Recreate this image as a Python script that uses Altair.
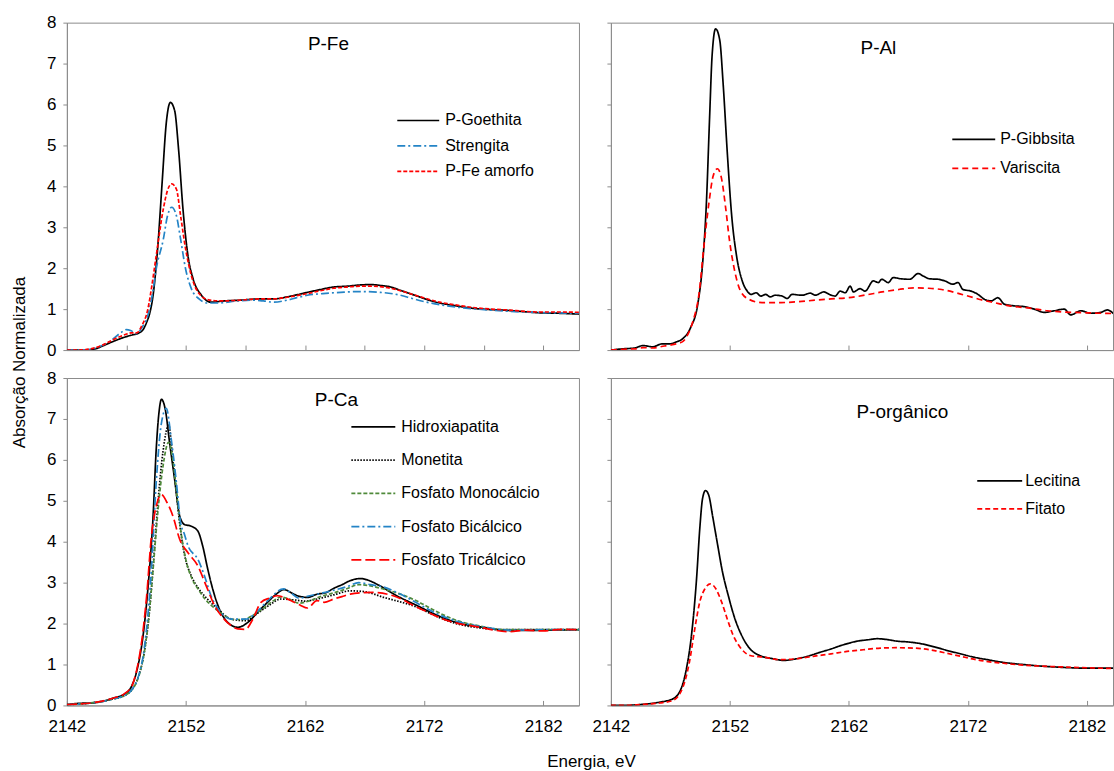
import altair as alt
import pandas as pd

FONT = "Liberation Sans"

# ---------------- P-Fe ----------------
goethita_e = [2142, 2143, 2144, 2144.5, 2145, 2145.8, 2146.9, 2147.5, 2148.0, 2148.4, 2148.7, 2149.0, 2149.24,
              2149.45, 2149.66, 2150.0, 2150.35, 2150.69, 2151.05, 2151.38, 2151.75, 2152.17, 2152.6, 2153.3,
              2154.1, 2155.2, 2156.6, 2157.5, 2158.3, 2159.4, 2160.5, 2161.3, 2162.2, 2163.3, 2164.4, 2165.5,
              2166.6, 2167.5, 2168.3, 2169.2, 2170.0, 2170.8, 2171.7, 2172.5, 2173.3, 2174.5, 2176.1, 2177.5,
              2178.9, 2180.3, 2181.7, 2183.2, 2185.0]
goethita_v = [0.0, 0.0, 0.01, 0.04, 0.1, 0.2, 0.32, 0.37, 0.41, 0.5, 0.68, 0.95, 1.34,
              1.9, 2.63, 4.1, 5.56, 6.05, 5.85, 4.9, 3.44, 2.3, 1.74, 1.34,
              1.17, 1.2, 1.22, 1.24, 1.25, 1.25, 1.3, 1.35, 1.41, 1.48, 1.54, 1.56,
              1.59, 1.6, 1.58, 1.54, 1.46, 1.38, 1.29, 1.21, 1.15, 1.09, 1.02, 0.99,
              0.97, 0.94, 0.91, 0.9, 0.88]

strengita_e = [2142, 2143, 2144, 2145, 2145.8, 2146.5, 2147.0, 2147.4, 2147.85, 2148.3, 2148.8, 2149.2, 2149.5,
               2150.1, 2150.45, 2150.8, 2151.2, 2151.55, 2151.97, 2152.45, 2153.1, 2153.8, 2154.7, 2156.3,
               2157.5, 2158.5, 2159.4, 2160.5, 2161.3, 2162.2, 2163.5, 2165.0, 2166.6, 2168.3, 2170.0, 2171.0,
               2172.2, 2173.5, 2174.7, 2176.5, 2178.9, 2181.5, 2185.0]
strengita_v = [0.0, 0.0, 0.02, 0.12, 0.25, 0.42, 0.5, 0.47, 0.4, 0.55, 0.85, 1.4, 1.98,
               2.71, 3.28, 3.49, 3.28, 2.71, 1.98, 1.5, 1.25, 1.15, 1.15, 1.2,
               1.22, 1.2, 1.17, 1.22, 1.28, 1.34, 1.38, 1.41, 1.43, 1.41, 1.34, 1.26,
               1.17, 1.1, 1.05, 1.0, 0.95, 0.92, 0.9]

amorfo_e = [2142, 2143, 2144, 2145, 2145.8, 2146.9, 2147.4, 2147.85, 2148.3, 2148.8, 2149.15, 2149.5, 2150.1,
            2150.45, 2150.8, 2151.2, 2151.55, 2151.97, 2152.45, 2153.1, 2154.0, 2155.2, 2156.6, 2158.3,
            2159.4, 2160.5, 2162.2, 2163.3, 2164.4, 2165.5, 2166.6, 2167.5, 2168.3, 2169.2, 2170.0, 2171.7,
            2173.3, 2174.5, 2176.1, 2178.9, 2181.7, 2183.5, 2185.0]
amorfo_v = [0.0, 0.0, 0.03, 0.12, 0.24, 0.38, 0.42, 0.42, 0.6, 1.0, 1.6, 2.3, 3.45,
            3.9, 4.06, 3.93, 3.28, 2.47, 1.82, 1.38, 1.22, 1.2, 1.22, 1.25,
            1.25, 1.29, 1.38, 1.45, 1.51, 1.54, 1.56, 1.56, 1.55, 1.51, 1.45, 1.3,
            1.17, 1.11, 1.04, 0.98, 0.93, 0.93, 0.92]

# ---------------- P-Al ----------------
gibbsita_e = [2142, 2143, 2144, 2144.7, 2145.5, 2146.3, 2146.9, 2147.5, 2148.0, 2148.7, 2149.3, 2149.7,
              2150.03, 2150.3, 2150.5, 2150.8, 2151.15, 2151.43, 2151.8, 2152.15, 2152.55, 2153.05, 2153.46,
              2153.8, 2154.2, 2154.6, 2155.0, 2155.4, 2155.8, 2156.39, 2156.81, 2157.23, 2158.06, 2158.76,
              2159.18, 2159.88, 2160.43, 2160.85, 2161.27, 2161.69, 2162.11, 2162.39, 2162.94, 2163.36,
              2164.06, 2164.48, 2164.76, 2165.31, 2165.73, 2166.43, 2167.13, 2167.82, 2168.24, 2168.8,
              2169.5, 2170.06, 2170.75, 2171.17, 2171.59, 2172.29, 2172.85, 2173.4, 2173.96, 2174.52,
              2175.08, 2175.91, 2176.75, 2177.59, 2178.42, 2179.26, 2180.1, 2180.65, 2181.49, 2182.33,
              2183.16, 2183.72, 2184.28]
gibbsita_v = [0.0, 0.03, 0.05, 0.11, 0.08, 0.15, 0.15, 0.2, 0.27, 0.55, 1.12, 2.09,
              3.62, 5.72, 7.17, 7.85, 7.57, 6.52, 4.74, 3.29, 2.32, 1.68, 1.44,
              1.36, 1.4, 1.32, 1.36, 1.3, 1.34, 1.32, 1.26, 1.36, 1.34, 1.39,
              1.34, 1.42, 1.35, 1.32, 1.44, 1.4, 1.56, 1.42, 1.5, 1.44,
              1.69, 1.65, 1.73, 1.65, 1.77, 1.74, 1.73, 1.87, 1.81, 1.74,
              1.73, 1.69, 1.61, 1.65, 1.48, 1.44, 1.36, 1.24, 1.2, 1.28,
              1.12, 1.08, 1.06, 1.0, 0.92, 0.96, 1.0, 0.86, 0.96, 0.9,
              0.92, 0.98, 0.88]

variscita_e = [2142, 2143, 2144, 2144.7, 2145.5, 2146.5, 2147.3, 2148.0, 2148.5, 2148.9, 2149.4, 2149.8,
               2150.25, 2150.6, 2150.95, 2151.3, 2151.65, 2151.98, 2152.35, 2152.9, 2153.6, 2154.7, 2156.3,
               2157.7, 2159.2, 2160.5, 2162.0, 2163.5, 2164.8, 2166.2, 2167.5, 2168.7, 2169.8, 2171.0,
               2172.0, 2173.1, 2174.2, 2175.5, 2177.3, 2178.7, 2180.1, 2182.0, 2184.4]
variscita_v = [0.0, 0.02, 0.03, 0.06, 0.05, 0.1, 0.14, 0.2, 0.4, 0.71, 1.36, 2.49,
               3.62, 4.26, 4.43, 4.19, 3.46, 2.65, 2.01, 1.44, 1.24, 1.16, 1.16,
               1.18, 1.22, 1.25, 1.28, 1.35, 1.42, 1.48, 1.52, 1.51, 1.48, 1.4,
               1.32, 1.23, 1.16, 1.08, 1.02, 0.96, 0.93, 0.91, 0.89]

# ---------------- P-Ca ----------------
hidroxi_e = [2142, 2143, 2144.1, 2145, 2145.8, 2146.9, 2147.4, 2147.85, 2148.4, 2148.8, 2149.24, 2149.5,
             2149.75, 2149.94, 2150.27, 2150.63, 2151.05, 2151.47, 2151.88, 2152.44, 2153.0, 2153.4, 2153.83,
             2154.25, 2154.8, 2155.5, 2156.35, 2157.2, 2158.0, 2158.85, 2159.5, 2160.24, 2160.8, 2161.36,
             2162.2, 2163.03, 2163.7, 2164.4, 2165.1, 2165.8, 2166.65, 2167.3, 2168.04, 2169.7, 2171.4,
             2173.05, 2174.7, 2176.95, 2179.2, 2182.5, 2185]
hidroxi_v = [0.02, 0.05, 0.06, 0.1, 0.17, 0.29, 0.45, 0.82, 1.71, 2.84, 4.63, 6.25,
             7.2, 7.48, 7.22, 6.41, 5.52, 4.63, 4.42, 4.38, 4.26, 3.9, 3.33,
             2.84, 2.36, 2.03, 1.91, 2.03, 2.27, 2.52, 2.7, 2.83, 2.76, 2.68,
             2.64, 2.72, 2.75, 2.86, 2.95, 3.05, 3.1, 3.06, 2.96, 2.68, 2.44,
             2.21, 2.03, 1.91, 1.83, 1.84, 1.85]

monetita_e = [2142, 2144, 2145.8, 2146.9, 2147.5, 2148.0, 2148.5, 2148.9, 2149.3, 2149.66, 2150.07, 2150.55,
              2150.9, 2151.2, 2151.5, 2151.9, 2152.44, 2153.0, 2153.8, 2154.67, 2155.8, 2157.0, 2158.0,
              2159.0, 2160.0, 2161.0, 2162.0, 2163.0, 2164.4, 2165.8, 2167.0, 2168.6, 2170.0, 2171.4,
              2173.0, 2174.7, 2176.5, 2178.5, 2181, 2185]
monetita_v = [0.02, 0.06, 0.15, 0.25, 0.4, 0.7, 1.3, 2.2, 3.6, 5.0, 6.2, 6.85,
              6.0, 5.19, 4.38, 3.65, 3.17, 2.88, 2.6, 2.36, 2.11, 2.07, 2.25,
              2.45, 2.6, 2.58, 2.55, 2.6, 2.7, 2.8, 2.78, 2.64, 2.53, 2.4,
              2.18, 2.0, 1.9, 1.85, 1.85, 1.85]

mono_e = [2142, 2144, 2145.8, 2146.9, 2147.5, 2148.0, 2148.5, 2148.9, 2149.24, 2149.66, 2150.07, 2150.55,
          2150.9, 2151.25, 2151.6, 2152.0, 2152.5, 2153.0, 2153.6, 2154.3, 2155.0, 2156.0, 2156.8, 2157.6,
          2158.4, 2159.3, 2160.0, 2160.8, 2161.5, 2162.3, 2163.2, 2164.4, 2165.5, 2166.5, 2167.5, 2168.5,
          2170.0, 2171.4, 2173.0, 2174.7, 2176.5, 2179, 2182, 2185]
mono_v = [0.02, 0.06, 0.15, 0.25, 0.4, 0.68, 1.3, 2.2, 3.33, 4.79, 5.84, 6.43,
          6.0, 5.1, 4.2, 3.55, 3.1, 2.85, 2.6, 2.4, 2.25, 2.1, 2.1, 2.2,
          2.35, 2.55, 2.65, 2.58, 2.5, 2.55, 2.65, 2.75, 2.85, 2.95, 2.92, 2.85,
          2.72, 2.55, 2.3, 2.08, 1.95, 1.85, 1.85, 1.85]

bica_e = [2142, 2144, 2145.8, 2146.9, 2147.5, 2148.0, 2148.5, 2149.1, 2149.5, 2149.94, 2150.35, 2150.77,
          2151.2, 2151.55, 2151.85, 2152.17, 2153.0, 2153.55, 2154.1, 2154.95, 2155.8, 2157.0, 2158.0,
          2159.0, 2160.2, 2160.8, 2161.5, 2162.4, 2163.5, 2164.5, 2165.5, 2166.5, 2167.5, 2168.5,
          2170.0, 2171.4, 2173.0, 2174.7, 2176.9, 2179.2, 2182, 2185]
bica_v = [0.02, 0.06, 0.15, 0.25, 0.4, 0.7, 1.4, 3.33, 5.44, 6.9, 7.26, 6.49,
          5.44, 4.46, 4.2, 3.9, 3.57, 3.17, 2.68, 2.27, 2.11, 2.11, 2.3,
          2.6, 2.85, 2.75, 2.62, 2.68, 2.75, 2.82, 2.9, 3.0, 2.95, 2.9,
          2.72, 2.5, 2.25, 2.06, 1.92, 1.84, 1.85, 1.85]

trica_e = [2142, 2144, 2145.8, 2146.9, 2147.5, 2147.85, 2148.3, 2148.7, 2149.1, 2149.5, 2149.94, 2150.35,
           2150.9, 2151.47, 2152.17, 2153.0, 2153.7, 2154.4, 2155.2, 2155.8, 2156.35, 2157.0, 2157.6,
           2158.3, 2159.0, 2159.7, 2160.2, 2161.1, 2161.6, 2162.2, 2163.0, 2163.6, 2164.4, 2165.1,
           2165.8, 2166.65, 2167.7, 2169.4, 2171.4, 2174.2, 2176.5, 2179.2, 2180.5, 2182, 2183.5, 2185]
trica_v = [0.02, 0.06, 0.17, 0.3, 0.5, 0.85, 1.6, 2.68, 4.14, 4.87, 5.15, 4.99,
           4.63, 4.06, 3.73, 3.41, 2.92, 2.44, 2.11, 1.95, 1.87, 1.86, 2.1,
           2.52, 2.62, 2.68, 2.64, 2.52, 2.45, 2.38, 2.56, 2.52, 2.6, 2.66,
           2.72, 2.75, 2.76, 2.68, 2.4, 2.05, 1.92, 1.8, 1.84, 1.82, 1.86, 1.85]

# ---------------- P-orgânico ----------------
lecitina_e = [2142, 2143, 2144.4, 2146.1, 2147.2, 2147.9, 2148.35, 2148.77, 2149.2, 2149.47, 2149.7, 2149.95,
              2150.23, 2150.54, 2150.93, 2151.38, 2151.86, 2152.42, 2152.99, 2153.7, 2154.5, 2155.65, 2156.5,
              2157.6, 2158.5, 2159.6, 2160.5, 2161.3, 2162.0, 2162.7, 2163.5, 2164.4, 2165.2, 2166.07,
              2167.0, 2168.03, 2169.2, 2170.3, 2171.4, 2172.5, 2173.6, 2174.8, 2175.9, 2177.0, 2178.2,
              2179.3, 2180.7, 2182.1, 2184.4]
lecitina_v = [0.0, 0.0, 0.02, 0.08, 0.16, 0.41, 0.9, 1.71, 3.1, 4.32, 5.05, 5.25,
              5.13, 4.64, 3.99, 3.26, 2.69, 2.12, 1.71, 1.38, 1.22, 1.14, 1.1,
              1.14, 1.2, 1.3, 1.38, 1.46, 1.52, 1.57, 1.6, 1.63, 1.61, 1.57,
              1.55, 1.51, 1.43, 1.34, 1.26, 1.18, 1.12, 1.06, 1.02, 0.99, 0.96,
              0.94, 0.92, 0.91, 0.91]

fitato_e = [2142, 2143, 2144.4, 2146.1, 2147.2, 2148.06, 2148.6, 2149.05, 2149.47, 2149.9, 2150.37, 2150.82,
            2151.3, 2151.77, 2152.28, 2152.84, 2153.7, 2154.8, 2156.2, 2157.6, 2159.0, 2160.5, 2161.85,
            2163.2, 2164.65, 2166, 2167.5, 2169.2, 2170.3, 2171.4, 2172.5, 2173.7, 2175, 2176.4, 2178.2,
            2180, 2182, 2184.4]
fitato_v = [0.0, 0.0, 0.02, 0.06, 0.12, 0.45, 1.06, 1.87, 2.53, 2.85, 2.97, 2.85,
            2.53, 2.12, 1.71, 1.43, 1.22, 1.18, 1.12, 1.14, 1.2, 1.26, 1.32,
            1.36, 1.4, 1.41, 1.4, 1.34, 1.27, 1.2, 1.13, 1.07, 1.03, 0.99, 0.96,
            0.94, 0.92, 0.9]

# ---------------- series styling ----------------
series_names = ["P-Goethita", "Strengita", "P-Fe amorfo",
                "P-Gibbsita", "Variscita",
                "Hidroxiapatita", "Monetita", "Fosfato Monocálcio", "Fosfato Bicálcico", "Fosfato Tricálcico",
                "Lecitina", "Fitato"]
BLACK, BLUE, RED, GREEN = "#000000", "#2484C6", "#FF0000", "#4F8A3A"
series_colors = [BLACK, BLUE, RED, BLACK, RED, BLACK, BLACK, GREEN, BLUE, RED, BLACK, RED]
series_dashes = [[1, 0], [8, 3, 2, 3], [4, 2],
                 [1, 0], [6, 4],
                 [1, 0], [1.5, 1.5], [4, 2], [8, 3, 2, 3], [10, 4],
                 [1, 0], [5, 3]]

color_scale = alt.Scale(domain=series_names, range=series_colors)
dash_scale = alt.Scale(domain=series_names, range=series_dashes)


def series_frame(pairs):
    frames = [pd.DataFrame({"E": e, "v": v, "series": name}) for name, e, v in pairs]
    return pd.concat(frames, ignore_index=True)


def legend_frame(names, y0, step):
    return pd.DataFrame({"series": names, "ly": [y0 + i * step for i in range(len(names))]})


GRAY = "#8C8C8C"
XT10 = [2142, 2152, 2162, 2172, 2182]
XT5 = [2142 + 5 * i for i in range(9)]
YT = list(range(9))
INSIDE = alt.ExprRef(expr="-5")


def make_panel(df, legend_df, lg, title, tx, ty, width, xdomain, x_axis, y_axis):
    col = alt.Color("series:N", scale=color_scale, legend=None)
    dash = alt.StrokeDash("series:N", scale=dash_scale, legend=None)
    lines = alt.Chart(df).mark_line(clip=True, strokeWidth=1.7, interpolate="monotone").encode(
        x=alt.X("E:Q", scale=alt.Scale(domain=xdomain, nice=False, zero=False), axis=x_axis),
        y=alt.Y("v:Q", scale=alt.Scale(domain=[0, 8], nice=False), axis=y_axis),
        color=col, strokeDash=dash, detail="series:N")
    rules = alt.Chart(legend_df).mark_rule(strokeWidth=1.7).encode(
        x=alt.value(lg[0]), x2=alt.value(lg[1]), y=alt.Y("ly:Q", scale=None),
        color=col, strokeDash=dash)
    labels = alt.Chart(legend_df).mark_text(align="left", baseline="middle", fontSize=16, font=FONT,
                                            color="#000000").encode(
        x=alt.value(lg[2]), y=alt.Y("ly:Q", scale=None), text="series:N")
    ttl = alt.Chart(pd.DataFrame({"t": [title]})).mark_text(
        align="center", baseline="middle", fontSize=19, font=FONT, color="#000000").encode(
        x=alt.value(tx), y=alt.value(ty), text="t:N")
    return alt.layer(lines, rules, labels, ttl).properties(width=width, height=328)


LEFT_DOM = [2142, 2185]
RIGHT_DOM = [2142, 2184.2]

ax_y_left_title = alt.Axis(values=YT, format="d", tickSize=4, labelPadding=7, labelFontSize=17,
                           title="Absorção Normalizada", titleX=-47, titleY=340, titleAngle=270,
                           titleAlign="center", titleBaseline="middle", titleFontSize=17,
                           titleFontWeight="normal")
ax_y_left = alt.Axis(values=YT, format="d", tickSize=4, labelPadding=7, labelFontSize=17, title=None)
ax_y_right = alt.Axis(values=YT, labels=False, tickSize=4, title=None)
ax_x_tl = alt.Axis(values=XT5, labels=False, tickSize=INSIDE, title=None)
ax_x_tr = alt.Axis(values=XT10, labels=False, tickSize=INSIDE, title=None)
ax_x_bl = alt.Axis(values=XT10, format="d", labelFlush=False, tickSize=INSIDE, labelPadding=18,
                   labelFontSize=17, title="Energia, eV", titleX=525, titleY=56, titleAlign="center",
                   titleBaseline="middle", titleFontSize=17, titleFontWeight="normal")
ax_x_br = alt.Axis(values=XT10, format="d", labelFlush=False, tickSize=INSIDE, labelPadding=18,
                   labelFontSize=17, title=None)

fe_names = ["P-Goethita", "Strengita", "P-Fe amorfo"]
al_names = ["P-Gibbsita", "Variscita"]
ca_names = ["Hidroxiapatita", "Monetita", "Fosfato Monocálcio", "Fosfato Bicálcico", "Fosfato Tricálcico"]
org_names = ["Lecitina", "Fitato"]

fe_df = series_frame([("P-Goethita", goethita_e, goethita_v), ("Strengita", strengita_e, strengita_v),
                      ("P-Fe amorfo", amorfo_e, amorfo_v)])
al_df = series_frame([("P-Gibbsita", gibbsita_e, gibbsita_v), ("Variscita", variscita_e, variscita_v)])
ca_df = series_frame([("Hidroxiapatita", hidroxi_e, hidroxi_v), ("Monetita", monetita_e, monetita_v),
                      ("Fosfato Monocálcio", mono_e, mono_v), ("Fosfato Bicálcico", bica_e, bica_v),
                      ("Fosfato Tricálcico", trica_e, trica_v)])
org_df = series_frame([("Lecitina", lecitina_e, lecitina_v), ("Fitato", fitato_e, fitato_v)])

tl = make_panel(fe_df, legend_frame(fe_names, 98, 25.5), (331, 373, 379), "P-Fe", 262, 21, 513,
                LEFT_DOM, ax_x_tl, ax_y_left_title)
tr = make_panel(al_df, legend_frame(al_names, 117, 29), (342, 385, 390), "P-Al", 268, 25, 503,
                RIGHT_DOM, ax_x_tr, ax_y_right)
bl = make_panel(ca_df, legend_frame(ca_names, 49, 33.3), (285, 329, 335), "P-Ca", 270, 22, 513,
                LEFT_DOM, ax_x_bl, ax_y_left)
br = make_panel(org_df, legend_frame(org_names, 103, 28), (367, 412, 415), "P-orgânico", 292, 34, 503,
                RIGHT_DOM, ax_x_br, ax_y_right)

chart = alt.concat(tl, tr, bl, br, columns=2, spacing={"row": 28, "column": 32}, bounds="flush").properties(
    padding={"left": 10, "top": 12, "right": 0, "bottom": 0},
    background="white",
).configure(font=FONT).configure_view(
    stroke=GRAY, strokeWidth=1
).configure_axis(
    grid=False, domainColor=GRAY, tickColor=GRAY, labelColor="#000000", titleColor="#000000",
    labelFont=FONT, titleFont=FONT
)

chart.save("out.html", embed_options={"renderer": "svg", "actions": False})
